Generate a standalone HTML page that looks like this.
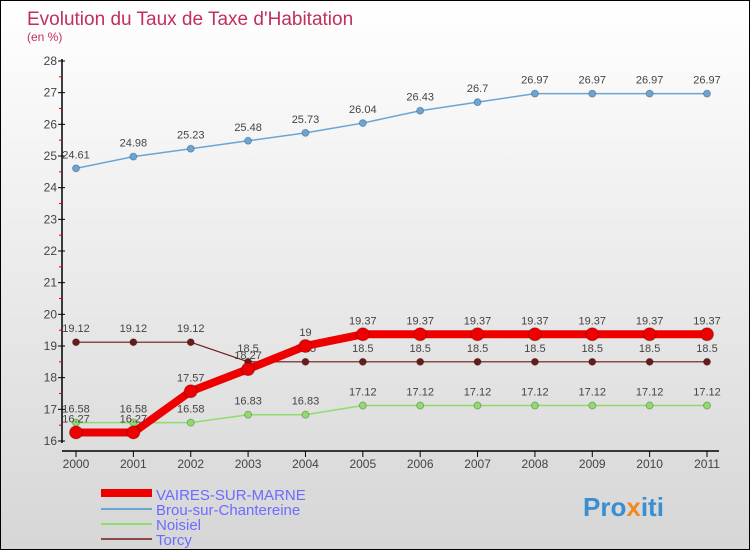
<!DOCTYPE html>
<html><head><meta charset="utf-8"><style>
body{margin:0}
#c{width:748px;height:548px;border:1px solid #000;background:linear-gradient(#ffffff,#d6d6d6);position:relative;overflow:hidden}
text{font-family:"Liberation Sans",sans-serif}
</style></head><body>
<div id="c">
<svg id="s" width="748" height="548">
<text x="26" y="24" font-size="19" fill="#c0305a">Evolution du Taux de Taxe d'Habitation</text>
<text x="26" y="40" font-size="12" fill="#c0305a">(en %)</text>
<g id="axes"></g><g id="series"></g>
<g>
<line x1="100" y1="492" x2="151" y2="492" stroke="#ee0000" stroke-width="8"/>
<text x="155" y="499" font-size="15" fill="#6b6bff">VAIRES-SUR-MARNE</text>
<line x1="100" y1="508" x2="151" y2="508" stroke="#6aa5d6" stroke-width="2"/>
<text x="155" y="514" font-size="15" fill="#6b6bff">Brou-sur-Chantereine</text>
<line x1="100" y1="523" x2="151" y2="523" stroke="#8fdc6a" stroke-width="2"/>
<text x="155" y="529" font-size="15" fill="#6b6bff">Noisiel</text>
<line x1="100" y1="538" x2="151" y2="538" stroke="#8a4a4a" stroke-width="2"/>
<text x="155" y="544" font-size="15" fill="#6b6bff">Torcy</text>
</g>
<text x="582" y="515" font-size="26" font-weight="bold" fill="#3a8fd0">Pro<tspan fill="#f08a20">x</tspan>iti</text>
</svg></div>
<script>
const years=[2000,2001,2002,2003,2004,2005,2006,2007,2008,2009,2010,2011];
const vaires=[16.27,16.27,17.57,18.27,19,19.37,19.37,19.37,19.37,19.37,19.37,19.37];
const brou=[24.61,24.98,25.23,25.48,25.73,26.04,26.43,26.7,26.97,26.97,26.97,26.97];
const noisiel=[16.58,16.58,16.58,16.83,16.83,17.12,17.12,17.12,17.12,17.12,17.12,17.12];
const torcy=[19.12,19.12,19.12,18.5,18.5,18.5,18.5,18.5,18.5,18.5,18.5,18.5];
const yTicks=[16,17,18,19,20,21,22,23,24,25,26,27,28];
const NS="http://www.w3.org/2000/svg";
const X=i=>75+i*(706-75)/11;
const Y=v=>440-(v-16)*(380/12);
function mk(tag,attrs,parent,txt){const e=document.createElementNS(NS,tag);for(const k in attrs)e.setAttribute(k,attrs[k]);if(txt!==undefined)e.textContent=txt;parent.appendChild(e);return e;}
const ax=document.getElementById('axes');
let l=mk('line',{x1:61,y1:58,x2:61,y2:442,stroke:'#000','stroke-width':1.5},ax);


l=mk('line',{x1:61,y1:450,x2:718,y2:450,stroke:'#000','stroke-width':1.5},ax);


yTicks.forEach((v,i)=>{
 mk('line',{x1:57,y1:Y(v),x2:64,y2:Y(v),stroke:'#000'},ax);
 if(i<yTicks.length-1)mk('line',{x1:58,y1:Y(v+0.5),x2:62,y2:Y(v+0.5),stroke:'#e00000'},ax);
 const t=mk('text',{x:56,y:Y(v)+4,'font-size':12,fill:'#444','text-anchor':'end'},ax,v);
 
 
});
years.forEach((y,i)=>{
 mk('line',{x1:X(i),y1:450,x2:X(i),y2:456,stroke:'#000'},ax);
 const t=mk('text',{x:X(i),y:467,'font-size':12,fill:'#444','text-anchor':'middle'},ax,y);
 
 
});
const sg=document.getElementById('series');
function series(vals,color,w,r,name){
 const g=mk('g',{},sg);
 
 
 mk('polyline',{points:vals.map((v,i)=>X(i)+','+Y(v)).join(' '),fill:'none',stroke:color,'stroke-width':w},g);
 vals.forEach((v,i)=>{
  const c=mk('circle',{cx:X(i),cy:Y(v),r:r,fill:color,stroke:'rgba(0,0,0,0.25)'},g);
  
  
  mk('text',{x:X(i),y:Y(v)-10,'font-size':11,fill:'#444','text-anchor':'middle'},g,v);
 });
}
series(brou,'#6aa5d6',1.5,3.5,'series-brou');
series(torcy,'#6b1a1a',1.2,3.5,'series-torcy');
series(noisiel,'#8fdc6a',1.5,3.5,'series-noisiel');
series(vaires,'#ee0000',8,6.5,'series-vaires');
</script>
</body></html>
